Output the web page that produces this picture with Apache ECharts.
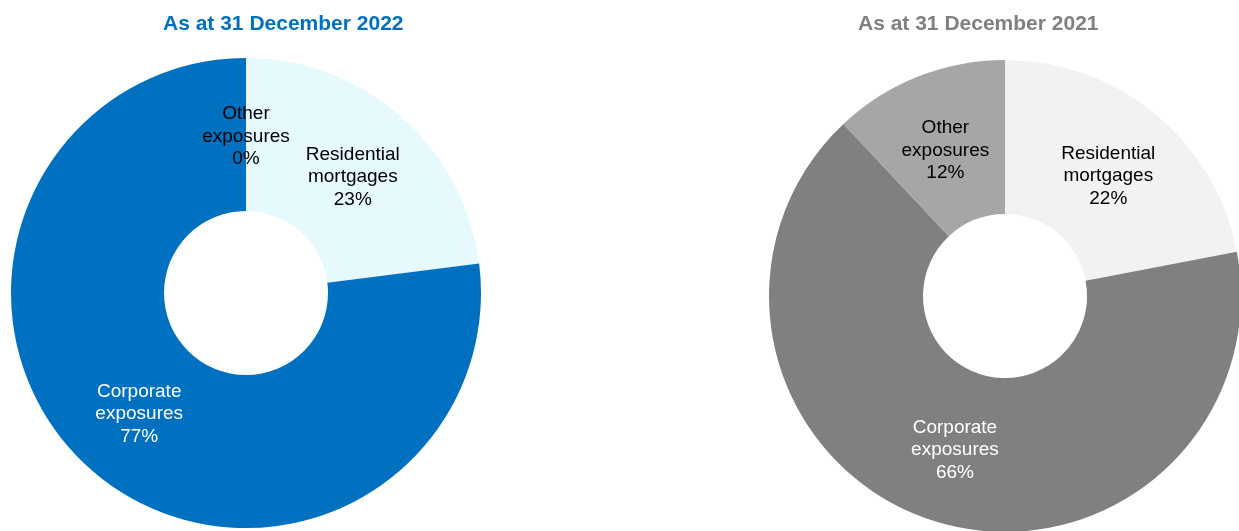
<!DOCTYPE html>
<html>
<head>
<meta charset="utf-8">
<script src="https://cdn.jsdelivr.net/npm/echarts@6/dist/echarts.min.js"></script>
<style>
html,body{margin:0;padding:0;background:#fff;}
#chart{width:1239px;height:531px;}
</style>
</head>
<body>
<div id="chart"></div>
<script>
const categories = ['Residential\nmortgages', 'Corporate\nexposures', 'Other\nexposures'];
const values2022 = [23, 77, 0];
const values2021 = [22, 66, 12];
const titles = ['As at 31 December 2022', 'As at 31 December 2021'];

const colors2022 = ['#E6F9FD', '#0070C0', '#0070C0'];
const colors2021 = ['#F2F2F2', '#808080', '#A6A6A6'];
const labelColors = ['#000000', '#FFFFFF', '#000000'];
const labelOffsets = [[0, 5], [0, 0], [0, 5]];

function buildData(values, colors) {
  return categories.map((c, i) => ({
    name: c,
    value: values[i],
    itemStyle: { color: colors[i] },
    label: { color: labelColors[i], offset: labelOffsets[i] }
  }));
}

const font = '"Liberation Sans", Arial, sans-serif';

function pieSeries(center, radius, data) {
  return {
    type: 'pie',
    center: center,
    radius: radius,
    startAngle: 90,
    clockwise: true,
    avoidLabelOverlap: false,
    itemStyle: { borderWidth: 0 },
    label: {
      show: true, position: 'inside', fontSize: 19, lineHeight: 22.5, fontFamily: font,
      formatter: p => p.name + '\n' + p.value + '%'
    },
    labelLine: { show: false },
    emphasis: { disabled: true },
    data: data
  };
}

const chart = echarts.init(document.getElementById('chart'), null, { renderer: 'canvas' });
chart.setOption({
  animation: false,
  title: [
    { text: titles[0], left: 158, top: 9,
      textStyle: { color: '#0070C0', fontSize: 21, fontWeight: 'bold', fontFamily: font } },
    { text: titles[1], left: 853, top: 9,
      textStyle: { color: '#808080', fontSize: 21, fontWeight: 'bold', fontFamily: font } }
  ],
  series: [
    pieSeries([246, 293], [82, 235], buildData(values2022, colors2022)),
    pieSeries([1005, 296], [82, 236], buildData(values2021, colors2021))
  ]
});
</script>
</body>
</html>
